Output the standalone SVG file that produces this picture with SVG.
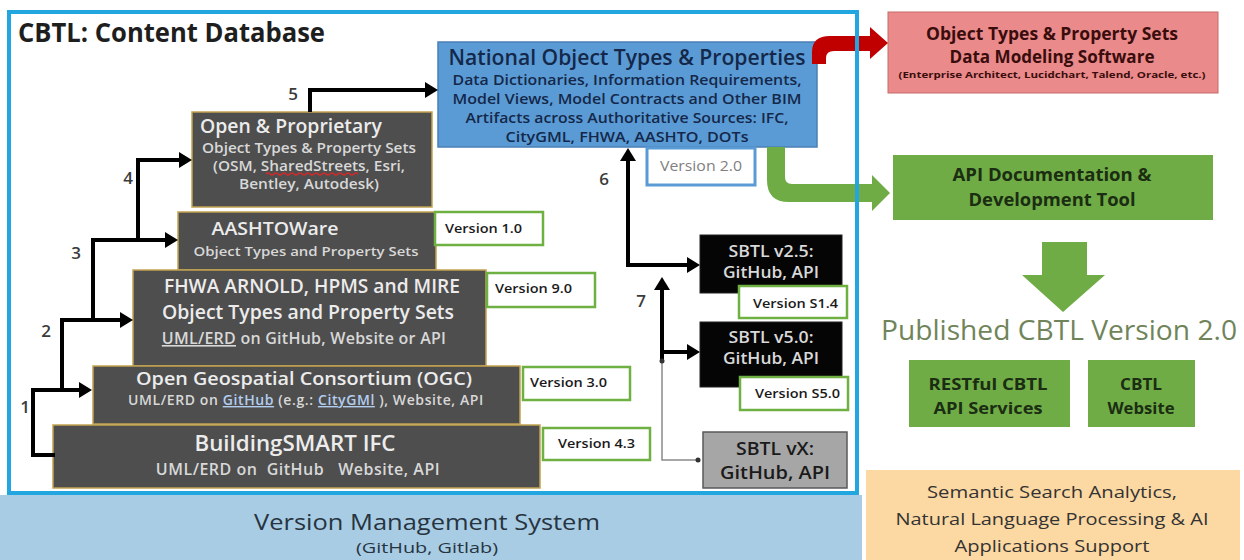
<svg xmlns="http://www.w3.org/2000/svg" width="1244" height="560" viewBox="0 0 1244 560">
  <defs>
    <style>
      text { font-family: "Open Sans", "Liberation Sans", sans-serif; }
      .gbox { fill: #4e4e4e; stroke: #c2a352; stroke-width: 1.5; }
      .gt { fill: #ececec; font-weight: 600; text-anchor: middle; }
      .gs { fill: #d8d8d8; font-weight: 600; text-anchor: middle; }
      .ver { fill: #ffffff; stroke: #6fb043; stroke-width: 2.5; }
      .vt { fill: #1a1a1a; font-size: 13px; font-weight: 600; }
      .conn { fill: none; stroke: #000000; stroke-width: 4; stroke-linejoin: miter; }
      .num { fill: #3b3b3b; font-size: 17px; font-weight: 600; text-anchor: middle; }
      .blk { fill: #050505; stroke: #222222; stroke-width: 1; }
      .bt { fill: #d9d9d9; font-size: 16px; font-weight: 600; text-anchor: middle; }
      .navy { fill: #14284a; text-anchor: middle; font-weight: 600; }
      .grn { fill: #6fac46; }
      .gtxt { fill: #1b2d12; font-weight: 700; text-anchor: middle; }
    </style>
    <marker id="ah" viewBox="0 0 13 16" refX="3" refY="8" markerWidth="13" markerHeight="16" markerUnits="userSpaceOnUse" orient="auto-start-reverse">
      <path d="M0,0 L13,8 L0,16 z" fill="#000000"/>
    </marker>
  </defs>

  <rect x="0" y="0" width="1244" height="560" fill="#ffffff"/>

  <!-- bottom band -->
  <g id="version-management">
    <rect x="0" y="495" width="862" height="65" fill="#a8cce4"/>
    <text x="427" y="530" font-size="22" fill="#27343f" text-anchor="middle" textLength="346" lengthAdjust="spacingAndGlyphs">Version Management System</text>
    <text x="427" y="553" font-size="14" fill="#27343f" text-anchor="middle" textLength="142" lengthAdjust="spacingAndGlyphs">(GitHub, Gitlab)</text>
  </g>

  <g id="semantic-search">
    <rect x="866" y="470" width="374" height="90" fill="#fcd8a2"/>
    <text x="1052" y="498" font-size="16" fill="#333333" text-anchor="middle" textLength="250" lengthAdjust="spacingAndGlyphs">Semantic Search Analytics,</text>
    <text x="1052" y="525" font-size="16" fill="#333333" text-anchor="middle" textLength="313" lengthAdjust="spacingAndGlyphs">Natural Language Processing &amp; AI</text>
    <text x="1052" y="552" font-size="16" fill="#333333" text-anchor="middle" textLength="195" lengthAdjust="spacingAndGlyphs">Applications Support</text>
  </g>

  <text id="cbtl-title" x="18" y="42" font-size="26" font-weight="700" fill="#1e1e1e" textLength="307" lengthAdjust="spacingAndGlyphs">CBTL:  Content Database</text>

  <!-- stacked source layers -->
  <g id="open-proprietary">
    <rect class="gbox" x="192" y="112" width="240" height="95"/>
    <text class="gt" x="291" y="133" font-size="19" textLength="182" lengthAdjust="spacingAndGlyphs">Open &amp; Proprietary</text>
    <text class="gs" x="309" y="153" font-size="14" textLength="214" lengthAdjust="spacingAndGlyphs">Object Types &amp; Property Sets</text>
    <text class="gs" x="309" y="171" font-size="14" textLength="192" lengthAdjust="spacingAndGlyphs">(OSM, SharedStreets, Esri,</text>
    <text class="gs" x="309" y="189" font-size="14" textLength="140" lengthAdjust="spacingAndGlyphs">Bentley, Autodesk)</text>
    <path d="M266 174 q2 -2 4 0 t4 0 t4 0 t4 0 t4 0 t4 0 t4 0 t4 0 t4 0 t4 0 t4 0 t4 0 t4 0 t4 0 t4 0 t4 0 t4 0 t4 0 t4 0 t4 0 t4 0 t4 0 t4 0" fill="none" stroke="#d42a2a" stroke-width="1.2"/>
  </g>

  <g id="aashtoware">
    <rect class="gbox" x="178" y="212" width="258" height="58"/>
    <text class="gt" x="275" y="235" font-size="18" textLength="127" lengthAdjust="spacingAndGlyphs">AASHTOWare</text>
    <text class="gs" x="306" y="256" font-size="13" textLength="225" lengthAdjust="spacingAndGlyphs">Object Types and Property Sets</text>
  </g>

  <g id="fhwa">
    <rect class="gbox" x="133" y="270" width="353" height="96"/>
    <text class="gt" x="312" y="293" font-size="20" textLength="296" lengthAdjust="spacingAndGlyphs">FHWA ARNOLD, HPMS and MIRE</text>
    <text class="gt" x="308" y="319" font-size="20" textLength="292" lengthAdjust="spacingAndGlyphs">Object Types and Property Sets</text>
    <text class="gs" x="304" y="344" font-size="16" fill="#e4e4e4" letter-spacing="0.25"><tspan text-decoration="underline">UML/ERD</tspan> on GitHub, Website or API</text>
  </g>

  <g id="ogc">
    <rect class="gbox" x="93" y="366" width="427" height="58"/>
    <text class="gt" x="304" y="385" font-size="18" textLength="336" lengthAdjust="spacingAndGlyphs">Open Geospatial Consortium (OGC)</text>
    <text class="gs" x="306" y="405" font-size="14" letter-spacing="0.6">UML/ERD on <tspan fill="#b3cdef" text-decoration="underline">GitHub</tspan> (e.g.: <tspan fill="#b3cdef" text-decoration="underline">CityGMl</tspan> ), Website, API</text>
  </g>

  <g id="buildingsmart">
    <rect class="gbox" x="53" y="425" width="487" height="63"/>
    <text class="gt" x="295" y="451" font-size="22" font-weight="400" textLength="201" lengthAdjust="spacingAndGlyphs">BuildingSMART IFC</text>
    <text class="gs" x="298" y="475" font-size="16" letter-spacing="0.5" style="white-space:pre">UML/ERD on  GitHub   Website, API</text>
  </g>

  <!-- version tags -->
  <g id="v-aashto">
    <rect class="ver" x="435" y="212" width="108" height="33"/>
    <text class="vt" x="445" y="233" textLength="77" lengthAdjust="spacingAndGlyphs">Version 1.0</text>
  </g>
  <g id="v-fhwa">
    <rect class="ver" x="487" y="273" width="108" height="34"/>
    <text class="vt" x="495" y="293" textLength="77" lengthAdjust="spacingAndGlyphs">Version 9.0</text>
  </g>
  <g id="v-ogc">
    <rect class="ver" x="523" y="367" width="107" height="33"/>
    <text class="vt" x="530" y="387" textLength="77" lengthAdjust="spacingAndGlyphs">Version 3.0</text>
  </g>
  <g id="v-ifc">
    <rect class="ver" x="543" y="428" width="107" height="32"/>
    <text class="vt" x="558" y="448" textLength="77" lengthAdjust="spacingAndGlyphs">Version 4.3</text>
  </g>

  <!-- national layer -->
  <g id="national">
    <rect x="438" y="42" width="379" height="105" fill="#5b9bd5" stroke="#4a7fb5" stroke-width="1.5"/>
    <text class="navy" x="627" y="65" font-size="21" font-weight="700" textLength="357" lengthAdjust="spacingAndGlyphs">National Object Types &amp; Properties</text>
    <text class="navy" x="627" y="85" font-size="14" textLength="349" lengthAdjust="spacingAndGlyphs">Data Dictionaries, Information Requirements,</text>
    <text class="navy" x="627" y="104" font-size="14" textLength="349" lengthAdjust="spacingAndGlyphs">Model Views, Model Contracts and Other BIM</text>
    <text class="navy" x="627" y="123" font-size="14" textLength="323" lengthAdjust="spacingAndGlyphs">Artifacts across Authoritative Sources: IFC,</text>
    <text class="navy" x="627" y="142" font-size="14" textLength="243" lengthAdjust="spacingAndGlyphs">CityGML, FHWA, AASHTO, DOTs</text>
  </g>
  <g id="v-national">
    <rect x="647" y="148" width="108" height="37" fill="#ffffff" stroke="#5b9bd5" stroke-width="3"/>
    <text x="701" y="171" font-size="14" fill="#7f7f7f" text-anchor="middle" textLength="82" lengthAdjust="spacingAndGlyphs">Version 2.0</text>
  </g>

  <!-- state layers -->
  <g id="sbtl-25">
    <rect class="blk" x="700" y="235" width="142" height="58"/>
    <text class="bt" x="771" y="257" textLength="85" lengthAdjust="spacingAndGlyphs">SBTL v2.5:</text>
    <text class="bt" x="771" y="278" textLength="96" lengthAdjust="spacingAndGlyphs">GitHub, API</text>
  </g>
  <g id="v-s14">
    <rect class="ver" x="739" y="286" width="108" height="32"/>
    <text class="vt" x="753" y="308" textLength="85" lengthAdjust="spacingAndGlyphs">Version S1.4</text>
  </g>
  <g id="sbtl-50">
    <rect class="blk" x="700" y="322" width="142" height="65"/>
    <text class="bt" x="771" y="343" textLength="85" lengthAdjust="spacingAndGlyphs">SBTL v5.0:</text>
    <text class="bt" x="771" y="364" textLength="96" lengthAdjust="spacingAndGlyphs">GitHub, API</text>
  </g>
  <g id="v-s50">
    <rect class="ver" x="740" y="377" width="108" height="33"/>
    <text class="vt" x="755" y="398" textLength="85" lengthAdjust="spacingAndGlyphs">Version S5.0</text>
  </g>
  <g id="sbtl-x">
    <rect x="703" y="432" width="144" height="56" fill="#a6a6a6" stroke="#595959" stroke-width="1.5"/>
    <text x="775" y="455" font-size="18" font-weight="600" fill="#1a1a1a" text-anchor="middle" textLength="78" lengthAdjust="spacingAndGlyphs">SBTL vX:</text>
    <text x="775" y="479" font-size="18" font-weight="600" fill="#1a1a1a" text-anchor="middle" textLength="110" lengthAdjust="spacingAndGlyphs">GitHub, API</text>
  </g>

  <!-- outputs -->
  <g id="modeling-software">
    <rect x="888" y="12" width="330" height="81" fill="#ea8a8a" stroke="#c86a6a" stroke-width="1"/>
    <text x="1052" y="40" font-size="17" font-weight="700" fill="#3a0d0d" text-anchor="middle" textLength="252" lengthAdjust="spacingAndGlyphs">Object Types &amp; Property Sets</text>
    <text x="1052" y="63" font-size="18" font-weight="700" fill="#3a0d0d" text-anchor="middle" textLength="205" lengthAdjust="spacingAndGlyphs">Data Modeling Software</text>
    <text x="1052" y="78" font-size="9.5" font-weight="700" fill="#3a0d0d" text-anchor="middle" textLength="307" lengthAdjust="spacingAndGlyphs">(Enterprise Architect, Lucidchart, Talend, Oracle, etc.)</text>
  </g>
  <g id="api-doc">
    <rect class="grn" x="893" y="155" width="320" height="65"/>
    <text class="gtxt" x="1052" y="181" font-size="18" textLength="199" lengthAdjust="spacingAndGlyphs">API Documentation &amp;</text>
    <text class="gtxt" x="1052" y="206" font-size="18" textLength="167" lengthAdjust="spacingAndGlyphs">Development Tool</text>
  </g>
  <polygon class="grn" points="1042,242 1087,242 1087,275 1105,275 1063,312 1022,275 1042,275"/>
  <text id="published" x="1059" y="340" font-size="27" fill="#70845a" text-anchor="middle" textLength="356" lengthAdjust="spacingAndGlyphs">Published CBTL Version 2.0</text>
  <g id="restful">
    <rect class="grn" x="909" y="360" width="161" height="67"/>
    <text class="gtxt" x="988" y="390" font-size="16" textLength="119" lengthAdjust="spacingAndGlyphs">RESTful CBTL</text>
    <text class="gtxt" x="988" y="414" font-size="16" textLength="109" lengthAdjust="spacingAndGlyphs">API Services</text>
  </g>
  <g id="website">
    <rect class="grn" x="1088" y="360" width="107" height="67"/>
    <text class="gtxt" x="1141" y="390" font-size="16" textLength="42" lengthAdjust="spacingAndGlyphs">CBTL</text>
    <text class="gtxt" x="1141" y="414" font-size="16" textLength="67" lengthAdjust="spacingAndGlyphs">Website</text>
  </g>

  <!-- connectors -->
  <g id="connectors">
    <path class="conn" d="M55 455 H33 V390 H82" marker-end="url(#ah)"/>
    <path class="conn" d="M62 390 V320 H123" marker-end="url(#ah)"/>
    <path class="conn" d="M93 320 V240 H168" marker-end="url(#ah)"/>
    <path class="conn" d="M138 240 V160 H182" marker-end="url(#ah)"/>
    <path class="conn" d="M310 112 V90 H428" marker-end="url(#ah)"/>
    <path class="conn" d="M690 265 H628 V158" marker-start="url(#ah)" marker-end="url(#ah)"/>
    <path class="conn" d="M662 360 V287" marker-end="url(#ah)"/>
    <path class="conn" d="M662 352 H690" marker-end="url(#ah)"/>
    <path d="M662 360 V460 H698" fill="none" stroke="#8a8a8a" stroke-width="1.5"/>
    <circle cx="662" cy="361" r="2.5" fill="#333333"/>
    <circle cx="698" cy="460" r="2.5" fill="#333333"/>
    <path d="M812 64 V52 Q812 36 830 36 H870 V27 L888 43 L870 59 V51 H834 Q826 51 826 58 V64 Z" fill="#c00000"/>
    <path d="M767 147 V180 Q767 202 789 202 H872 V211 L890 193 L872 175 V184 H792 Q785 184 785 177 V147 Z" fill="#6fac46"/>
    <text class="num" x="25" y="413">1</text>
    <text class="num" x="46" y="337">2</text>
    <text class="num" x="76" y="259">3</text>
    <text class="num" x="128" y="184">4</text>
    <text class="num" x="293" y="100">5</text>
    <text class="num" x="604" y="185">6</text>
    <text class="num" x="641" y="307">7</text>
  </g>

  <!-- content database frame -->
  <rect id="cbtl-frame" x="9" y="12" width="848" height="481" fill="none" stroke="#22a6df" stroke-width="4"/>
</svg>
